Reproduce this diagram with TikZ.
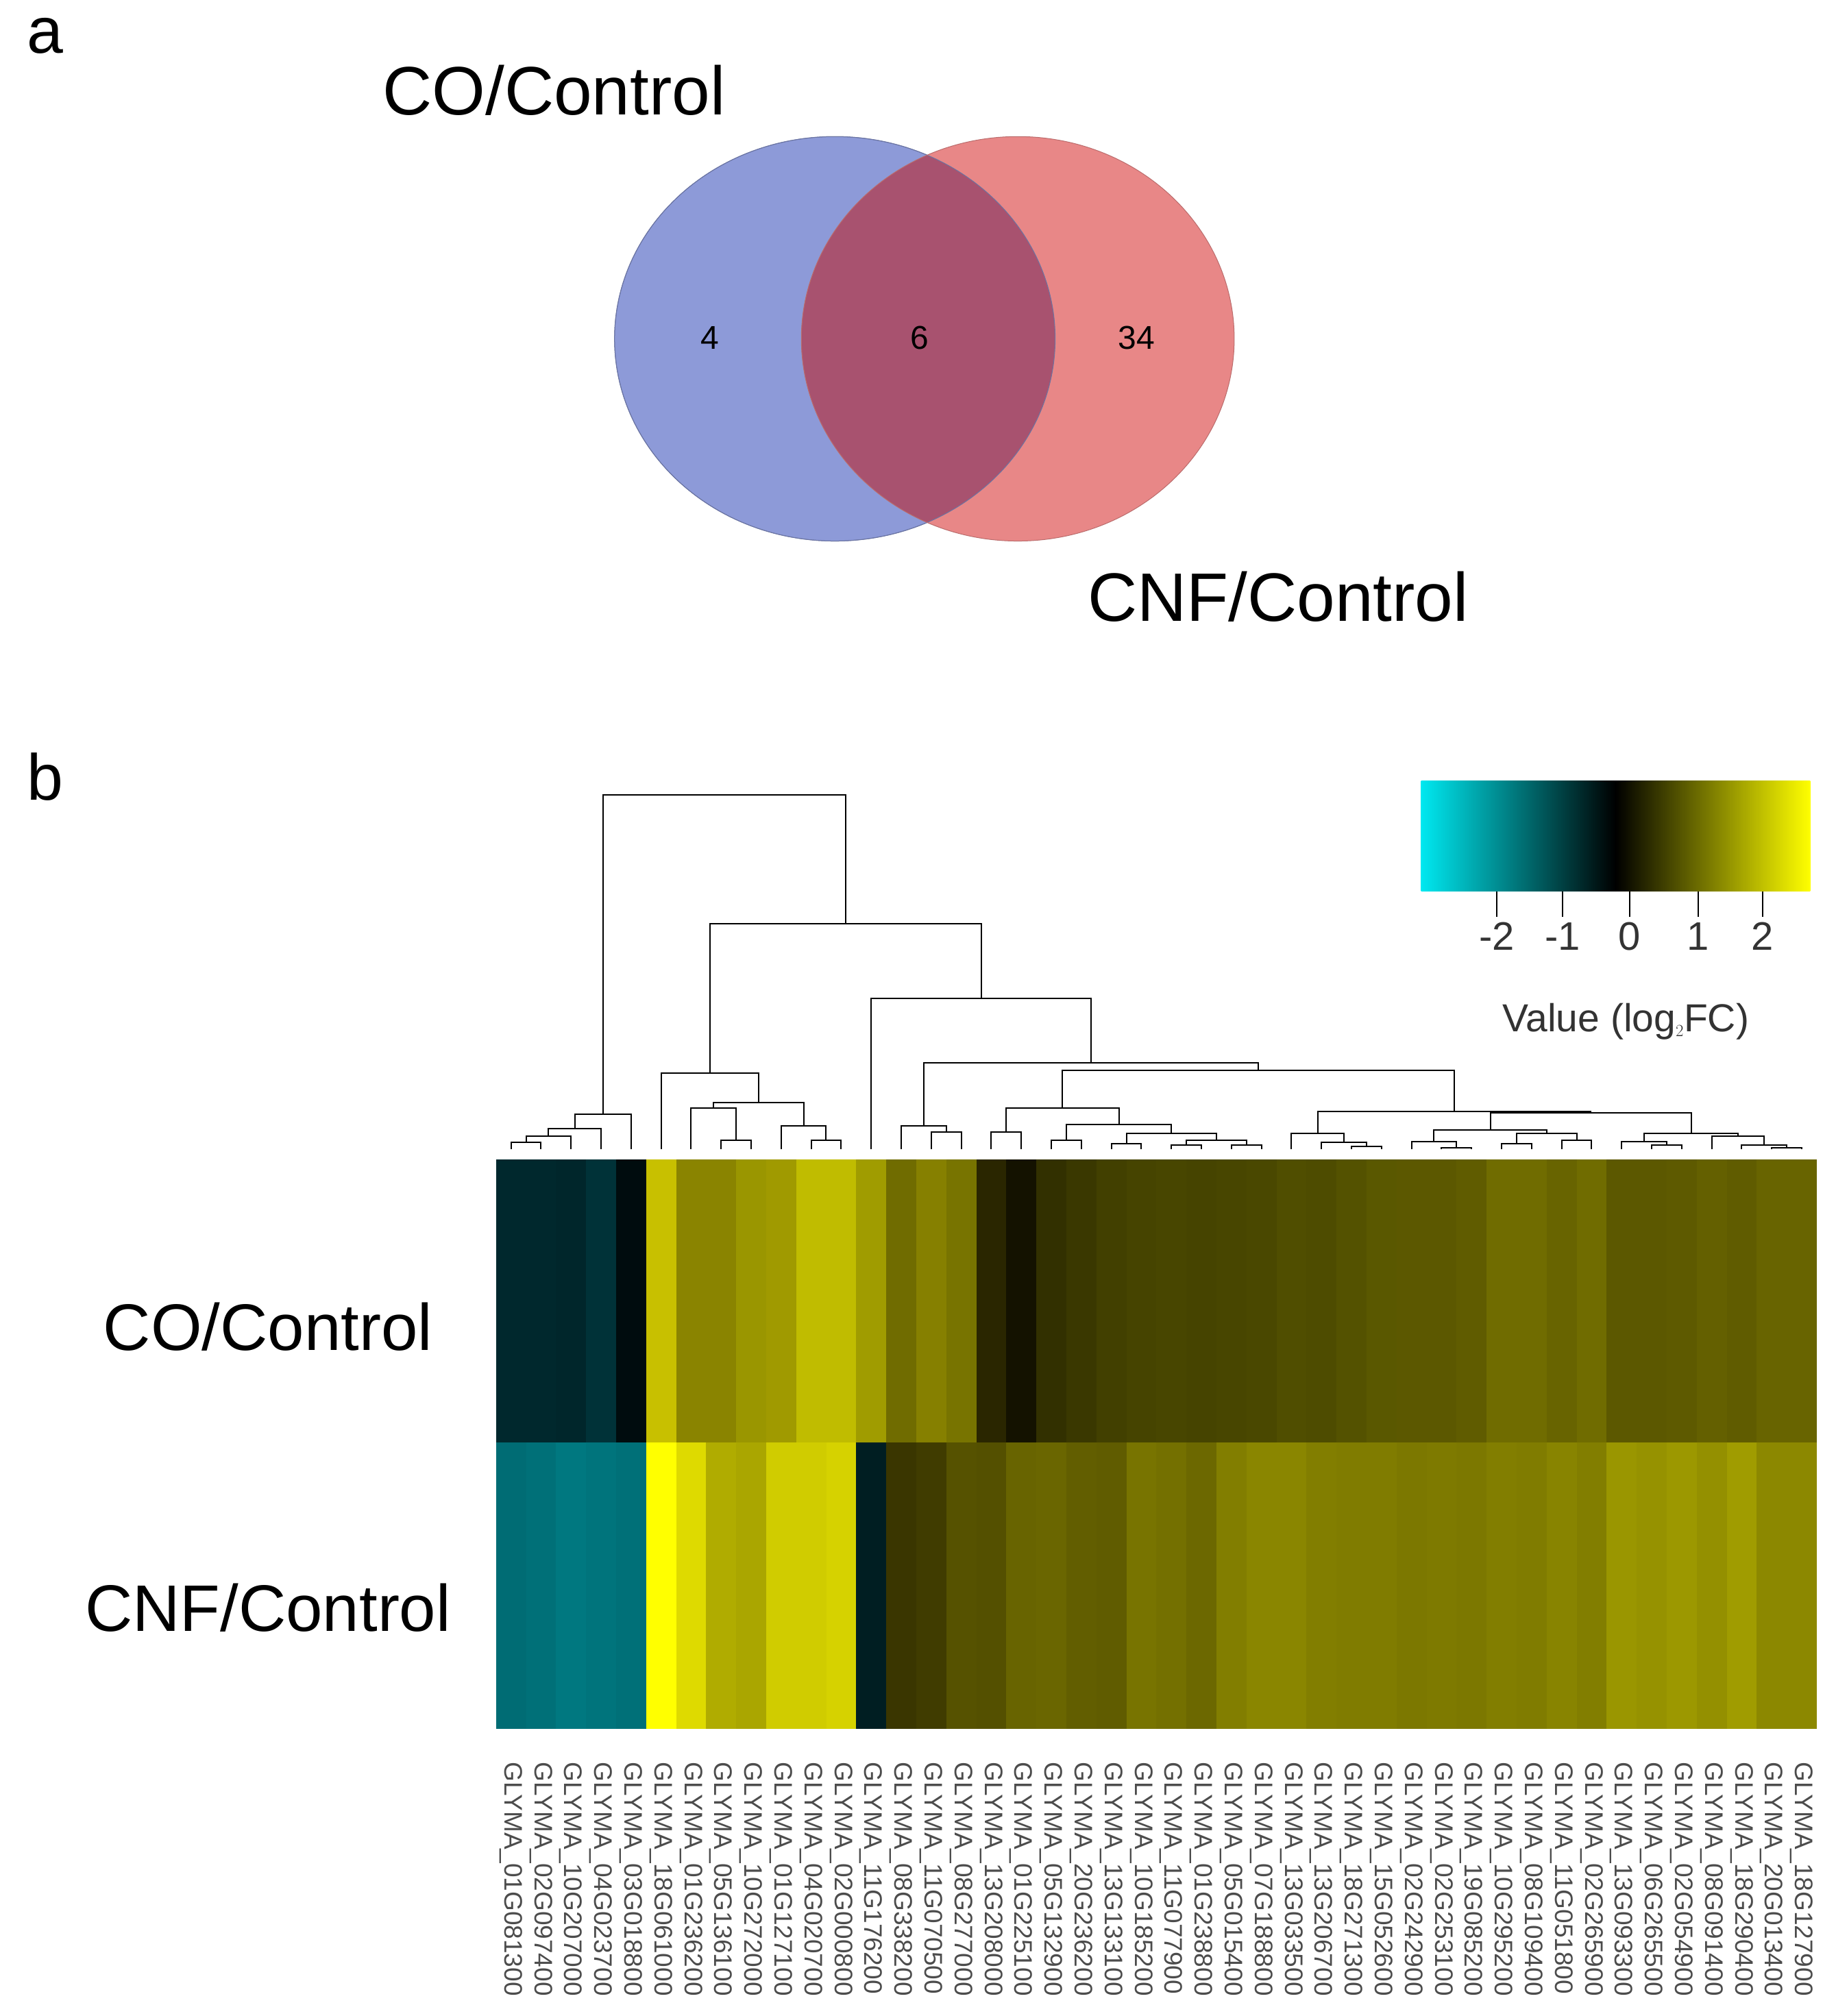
\documentclass[tikz,border=0pt]{standalone}
\usepackage{fontspec}
\setmainfont{Liberation Sans}
\begin{document}
\begin{tikzpicture}[x=1.88pt,y=-1.88pt,
  dendro/.style={draw=black,line width=2pt},
  big/.style={font=\fontsize{100}{110}\selectfont},
  gene/.style={font=\fontsize{37}{40}\selectfont,text=black!70,rotate=-90,anchor=west,inner sep=0pt}]
\useasboundingbox[fill=white] (0,0) rectangle (1425,1565);
\newcommand\dmg[5]{\draw[dendro] (#1,#2) |- (#3,#5) -- (#3,#4);}
% panel a
\node[font=\fontsize{95}{100}\selectfont] (la) at (35,28) {a};
\definecolor{vblue}{RGB}{141,154,216}
\definecolor{vred}{RGB}{232,135,135}
\definecolor{vmix}{RGB}{168,82,111}
\fill[vblue,draw=vblue!80!black,line width=1pt] (648,263) ellipse [x radius=171,y radius=157];
\fill[vred] (790,263) ellipse [x radius=168,y radius=157];
\begin{scope}
\clip (648,263) ellipse [x radius=171,y radius=157];
\fill[vmix] (790,263) ellipse [x radius=168,y radius=157];
\end{scope}
\draw[vblue!75!black,line width=1pt] (648,263) ellipse [x radius=171,y radius=157];
\draw[vred!80!black,line width=1pt] (790,263) ellipse [x radius=168,y radius=157];
\node[font=\fontsize{48}{50}\selectfont] (n4) at (551,262) {4};
\node[font=\fontsize{48}{50}\selectfont] (n6) at (714,262) {6};
\node[font=\fontsize{48}{50}\selectfont] (n34) at (882,262) {34};
\node[big] (coa) at (430,70) {CO/Control};
\node[big] (cnfa) at (992,463) {CNF/Control};
% panel b
\node[font=\fontsize{95}{100}\selectfont] (lb) at (35,603) {b};
\node[font=\fontsize{96}{100}\selectfont] (cob) at (208,1030) {CO/Control};
\node[font=\fontsize{96}{100}\selectfont] (cnfb) at (208,1248) {CNF/Control};
% heatmap
\foreach \r/\g/\b [count=\i from 0] in {0/40/45,0/40/45,0/38/43,0/50/56,0/12/14,200/192/0,138/132/0,138/132/0,154/150/0,160/154/0,192/188/0,192/188/0,160/156/0,112/108/0,134/128/0,120/116/0,42/38/0,20/18/0,50/48/0,58/56/0,66/64/0,70/68/0,72/70/0,70/68/0,72/70/0,74/72/0,80/78/0,78/76/0,84/82/0,90/88/0,92/88/0,92/88/0,96/92/0,112/108/0,112/108/0,104/100/0,112/108/0,92/88/0,92/88/0,94/90/0,100/96/0,96/92/0,104/100/0,104/100/0}
  \fill[fill={rgb,255:red,\r;green,\g;blue,\b}] ({385+23.3*\i},900) rectangle ++(23.5,220);
\foreach \r/\g/\b [count=\i from 0] in {0/108/116,0/112/120,0/120/128,0/116/124,0/112/120,255/255/0,222/218/0,176/172/0,170/166/0,208/204/0,208/204/0,214/210/0,0/30/34,58/54/0,64/60/0,86/82/0,84/80/0,104/100/0,106/102/0,98/94/0,96/92/0,120/116/0,116/112/0,108/104/0,130/126/0,138/134/0,138/134/0,130/126/0,128/124/0,128/124/0,124/120/0,126/122/0,124/120/0,130/126/0,128/124/0,136/132/0,130/126/0,154/150/0,150/146/0,156/152/0,148/144/0,160/156/0,140/136/0,140/136/0}
  \fill[fill={rgb,255:red,\r;green,\g;blue,\b}] ({385+23.3*\i},1120) rectangle ++(23.5,222);
% gene labels
\foreach \t [count=\i from 0] in {01G081300,02G097400,10G207000,04G023700,03G018800,18G061000,01G236200,05G136100,10G272000,01G127100,04G020700,02G000800,11G176200,08G338200,11G070500,08G277000,13G208000,01G225100,05G132900,20G236200,13G133100,10G185200,11G077900,01G238800,05G015400,07G188800,13G033500,13G206700,18G271300,15G052600,02G242900,02G253100,19G085200,10G295200,08G109400,11G051800,02G265900,13G093300,06G265500,02G054900,08G091400,18G290400,20G013400,18G127900}
  \node[gene] (g\i) at ({396.6+23.3*\i},1368) {GLYMA\_\t};
% dendrogram
\dmg{396.6}{892}{419.9}{892}{887}
\dmg{408.3}{887}{443.2}{892}{882}
\dmg{425.7}{882}{466.5}{892}{876}
\dmg{446.1}{876}{489.8}{892}{865}
\dmg{559.7}{892}{583.0}{892}{885}
\dmg{536.4}{892}{571.3}{885}{860}
\dmg{629.6}{892}{652.9}{892}{885}
\dmg{606.3}{892}{641.2}{885}{874}
\dmg{553.9}{860}{623.8}{874}{856}
\dmg{513.1}{892}{588.8}{856}{833}
\dmg{722.8}{892}{746.1}{892}{879}
\dmg{699.5}{892}{734.5}{879}{874}
\dmg{769.4}{892}{792.7}{892}{879}
\dmg{816.0}{892}{839.3}{892}{885}
\dmg{862.6}{892}{885.9}{892}{888}
\dmg{909.2}{892}{932.5}{892}{889}
\dmg{955.8}{892}{979.1}{892}{889}
\dmg{920.9}{889}{967.5}{889}{885}
\dmg{874.3}{888}{944.2}{885}{880}
\dmg{827.7}{885}{909.2}{880}{873}
\dmg{781.0}{879}{868.5}{873}{860}
\dmg{1049.0}{892}{1072.3}{892}{890}
\dmg{1025.7}{892}{1060.7}{890}{887}
\dmg{1002.4}{892}{1043.2}{887}{880}
\dmg{1118.9}{892}{1142.2}{892}{891}
\dmg{1095.6}{892}{1130.5}{891}{886}
\dmg{1165.5}{892}{1188.8}{892}{888}
\dmg{1212.1}{892}{1235.4}{892}{885}
\dmg{1177.2}{888}{1223.8}{885}{880}
\dmg{1113}{886}{1200.5}{880}{877}
\dmg{1282.0}{892}{1305.3}{892}{889}
\dmg{1258.7}{892}{1293.7}{889}{886}
\dmg{1375.2}{892}{1398.5}{892}{891}
\dmg{1351.9}{892}{1386.9}{891}{889}
\dmg{1328.6}{892}{1369.4}{889}{882}
\dmg{1276.2}{886}{1349}{882}{880}
\dmg{1156.8}{877}{1312.6}{880}{864}
\dmg{1022.8}{880}{1234.7}{864}{863}
\dmg{824.7}{860}{1128.8}{863}{831}
\dmg{717}{874}{976.8}{831}{825}
\dmg{676.2}{892}{846.9}{825}{775}
\dmg{551}{833}{761.6}{775}{717}
\dmg{468}{865}{656.3}{717}{617}
% colour key
\definecolor{kcyan}{RGB}{0,232,240}
\shade[left color=kcyan,right color=yellow,middle color=black] (1103,606) rectangle (1405,692);
\foreach \x/\l in {1162/-2,1213/-1,1265/0,1318/1,1368/2}{
  \draw[line width=2pt] (\x,692) -- (\x,712);
  \node[font=\fontsize{58}{60}\selectfont,text=black!80] at (\x,727) {\l};}
\node[font=\fontsize{57}{60}\selectfont,text=black!80] (vl) at (1262,793) {Value (log$_2$FC)};
\end{tikzpicture}
\end{document}
